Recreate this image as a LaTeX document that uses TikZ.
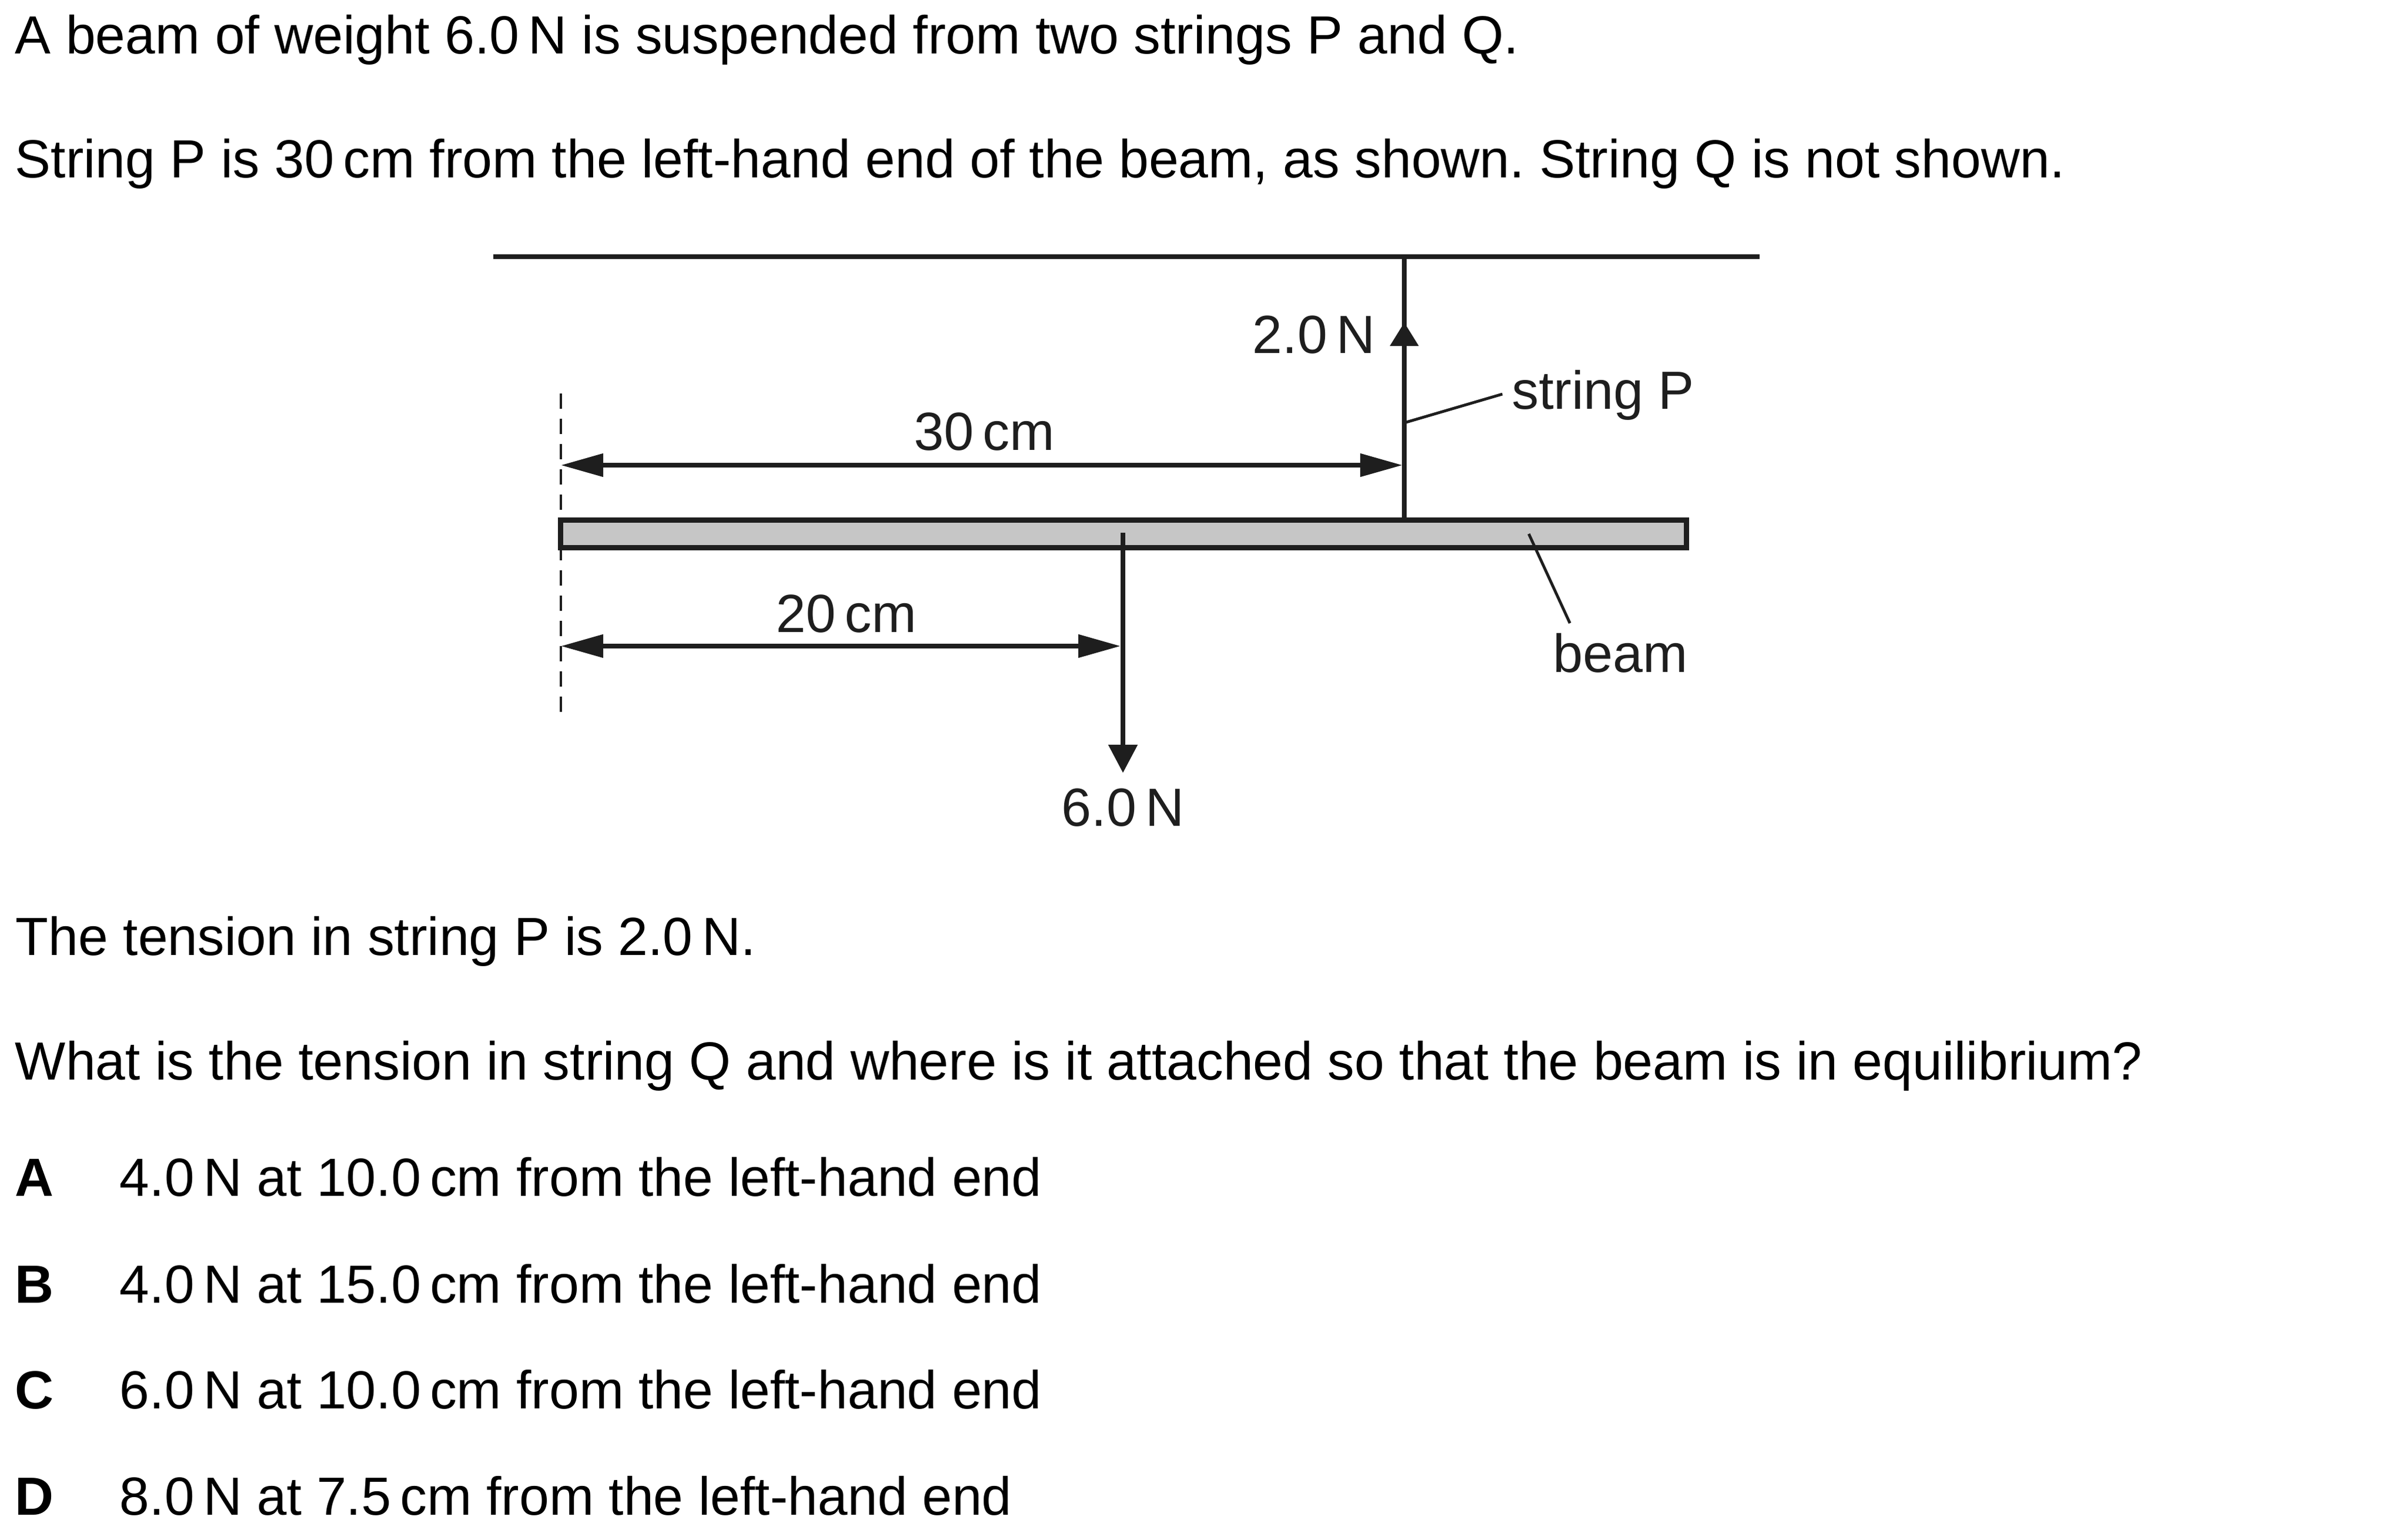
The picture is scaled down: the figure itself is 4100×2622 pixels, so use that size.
\documentclass[tikz,border=0pt]{standalone}
\usepackage{fontspec}
\setmainfont{Liberation Sans}
\usetikzlibrary{arrows.meta}
\definecolor{ink}{RGB}{30,30,30}
\definecolor{beamgrey}{RGB}{198,198,198}
\frenchspacing
\begin{document}
\begin{tikzpicture}[x=0.25pt,y=-0.25pt,
  bodyfont/.style={font=\fontsize{22.85pt}{27pt}\selectfont},
  txt/.style={bodyfont, inner sep=0pt, anchor=base west, text=black},
  optletter/.style={txt, font=\fontsize{22.85pt}{27pt}\selectfont\bfseries},
  lbl/.style={bodyfont, inner sep=0pt, text=ink},
  mainline/.style={draw=ink, line width=2.2pt},
  leader/.style={draw=ink, line width=1.2pt},
  dimline/.style={draw=ink, line width=2pt,
     {Triangle[length=18pt,width=9.5pt]}-{Triangle[length=18pt,width=9.5pt]}},
  upforce/.style={draw=ink, line width=2pt, -{Triangle[length=10pt,width=11.75pt]}},
  downforce/.style={draw=ink, line width=2.1pt, -{Triangle[length=12pt,width=12pt]}},
  endline/.style={draw=ink, line width=1.1pt, dash pattern=on 6.5pt off 4.25pt},
  beambox/.style={draw=ink, fill=beamgrey, line width=2.2pt}
]
\useasboundingbox (0,0) rectangle (4100,2622);

% ---- question text ----
\node[txt] (t1) at (25,92) {A beam of weight 6.0\,N is suspended from two strings P and Q.};
\node[txt] (t2) at (25,302) {String P is 30\,cm from the left-hand end of the beam, as shown. String Q is not shown.};
\node[txt] (t3) at (26,1626) {The tension in string P is 2.0\,N.};
\node[txt] (t4) at (25,1838) {What is the tension in string Q and where is it attached so that the beam is in equilibrium?};

\node[optletter] (oA) at (25,2036) {A};
\node[txt] (aA) at (203,2036) {4.0\,N at 10.0\,cm from the left-hand end};
\node[optletter] (oB) at (25,2218) {B};
\node[txt] (aB) at (203,2218) {4.0\,N at 15.0\,cm from the left-hand end};
\node[optletter] (oC) at (25,2398) {C};
\node[txt] (aC) at (203,2398) {6.0\,N at 10.0\,cm from the left-hand end};
\node[optletter] (oD) at (25,2579) {D};
\node[txt] (aD) at (203,2579) {8.0\,N at 7.5\,cm from the left-hand end};

% ---- geometry ----
\coordinate (ceilL) at (840,437);
\coordinate (ceilR) at (2996,437);
\coordinate (strTop) at (2391,437);
\coordinate (strBot) at (2391,881);
\coordinate (upTip) at (2391,549);
\coordinate (dashTop) at (955,670);
\coordinate (dashBot) at (955,1217);
\coordinate (d30L) at (955,792);
\coordinate (d30R) at (2388,792);
\coordinate (d20L) at (955,1100);
\coordinate (d20R) at (1908,1100);
\coordinate (wTop) at (1912,907);
\coordinate (wTip) at (1912,1316);
\coordinate (spA) at (2394,719);
\coordinate (spB) at (2558,671);
\coordinate (bmA) at (2603,909);
\coordinate (bmB) at (2673,1061);

% ceiling
\draw[mainline] (ceilL) -- (ceilR);
% dashed end line
\draw[endline] (dashTop) -- (dashBot);
% beam
\draw[beambox] (954.5,885.5) rectangle (2871.5,932.5);
% string P
\draw[mainline, line width=2pt] (strTop) -- (strBot);
\draw[upforce] (strBot) -- (upTip);
% weight
\draw[downforce] (wTop) -- (wTip);
% dimension arrows
\draw[dimline] (d30L) -- (d30R);
\draw[dimline] (d20L) -- (d20R);
% leaders
\draw[leader] (spA) -- (spB);
\draw[leader] (bmA) -- (bmB);

% labels
\node[lbl, anchor=base] (l30) at (1676,766) {30\,cm};
\node[lbl, anchor=base] (l20) at (1441,1076) {20\,cm};
\node[lbl, anchor=base east] (l2N) at (2342,601) {2.0\,N};
\node[lbl, anchor=base west] (lsP) at (2574,696) {string P};
\node[lbl, anchor=base west] (lbeam) at (2644,1144) {beam};
\node[lbl, anchor=base] (l6N) at (1912,1406) {6.0\,N};
\end{tikzpicture}
\end{document}
